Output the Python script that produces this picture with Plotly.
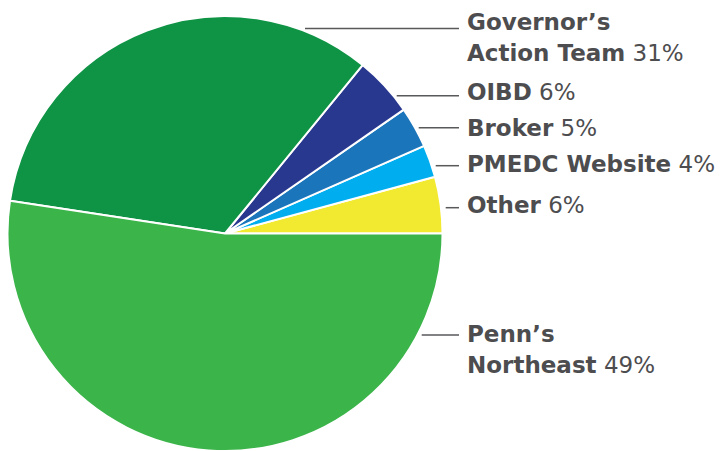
import plotly.graph_objects as go

names = ["Other", "PMEDC Website", "Broker", "OIBD", "Governor’s Action Team", "Penn’s Northeast"]
values = [4.2, 2.4, 3.05, 4.45, 33.5, 52.4]
printed_pct = ["6%", "4%", "5%", "6%", "31%", "49%"]
colors = ["#F2EA30", "#00AEEF", "#1B75BB", "#29388F", "#0F9345", "#3BB44A"]

# label lines (bold part, percent shown on last line)
label_lines = [
    ["Other"],
    ["PMEDC Website"],
    ["Broker"],
    ["OIBD"],
    ["Governor’s", "Action Team"],
    ["Penn’s", "Northeast"],
]

W, H = 723, 451
# layout positions (pixels in the final screenshot)
label_x = 465
line_end_x = 459
line_y = [207.7, 165.7, 127.7, 95.7, 28.5, 335]
line_start_x = [445.7, 435.7, 418.7, 396.7, 305, 421.7]
text_y_first = [205.5, 164, 128, 92, 22, 334]
line_gap = 31

def px(x):
    return x / W

def py(y):
    return 1 - y / H

first_angle = 360 * values[0] / sum(values)

fig = go.Figure(go.Pie(
    labels=names,
    values=values,
    sort=False,
    direction="counterclockwise",
    rotation=90 - first_angle,
    marker=dict(colors=colors, line=dict(color="white", width=2)),
    textinfo="none",
    hoverinfo="label+percent",
    showlegend=False,
    domain=dict(x=[7 / W, 443 / W], y=[0, 1 - 16 / H]),
))

annotations = []
shapes = []
for i, lines in enumerate(label_lines):
    for j, ln in enumerate(lines):
        txt = "<b>" + ln + "</b>"
        if j == len(lines) - 1:
            txt += " " + printed_pct[i]
        annotations.append(dict(
            x=px(label_x), y=py(text_y_first[i] + j * line_gap),
            xref="paper", yref="paper", xanchor="left", yanchor="middle",
            text=txt, showarrow=False,
            font=dict(family="DejaVu Sans", size=23, color="#4D4D4F"),
        ))
    shapes.append(dict(
        type="line", xref="paper", yref="paper",
        x0=px(line_start_x[i]), x1=px(line_end_x), y0=py(line_y[i]), y1=py(line_y[i]),
        line=dict(color="#58595B", width=1.5),
    ))

fig.update_layout(
    width=W, height=H,
    margin=dict(l=0, r=0, t=0, b=0),
    paper_bgcolor="white", plot_bgcolor="white",
    annotations=annotations, shapes=shapes,
)

fig.write_html("out.html", config={"displayModeBar": False},
               post_script="document.body.style.margin='0';")
